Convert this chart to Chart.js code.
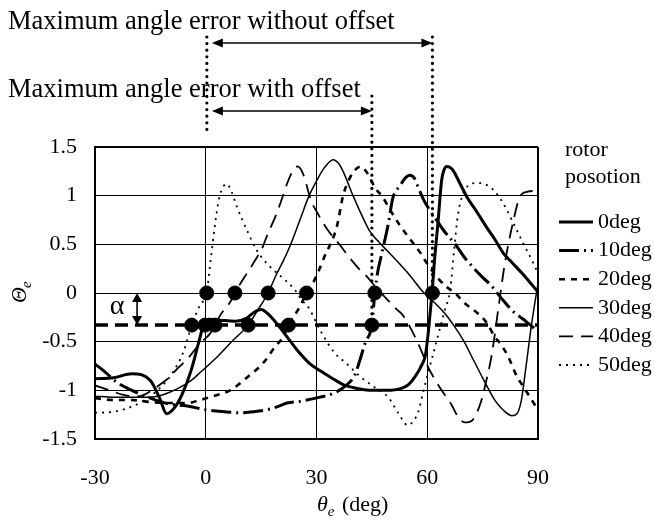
<!DOCTYPE html>
<html>
<head>
<meta charset="utf-8">
<script src="https://cdn.jsdelivr.net/npm/chart.js@4.4.1/dist/chart.umd.min.js"></script>
<style>
  html, body { margin: 0; padding: 0; background: #fff; }
  #wrap { width: 654px; height: 525px; }
</style>
</head>
<body>
<div id="wrap"><canvas id="chart" width="654" height="525"></canvas></div>
<script>
// ── Data ──
const xTicks = [-30, 0, 30, 60, 90];
const xTickLabels = ['-30', '0', '30', '60', '90'];
const yTicks = [-1.5, -1, -0.5, 0, 0.5, 1, 1.5];
const yTickLabels = ['-1.5', '-1', '-0.5', '0', '0.5', '1', '1.5'];

const deg0X = [-30, -25, -20, -15, -12.5, -10.6, -8.5, -6.5, -4, -2, -0.5, 1, 4, 8, 11, 13, 15, 17, 20, 23, 25.5, 28, 31, 34, 37.7, 41, 45, 49, 53, 55, 56.7, 58.5, 59.5, 60.3, 60.8, 61.3, 62, 62.9, 63.9, 64.6, 65.3, 66.2, 67, 68.8, 70.7, 73.5, 76, 78.5, 80.6, 83, 86, 88, 90];
const deg0Y = [-0.88, -0.87, -0.83, -0.9, -1.08, -1.24, -1.18, -1.05, -0.8, -0.52, -0.32, -0.27, -0.28, -0.29, -0.26, -0.2, -0.17, -0.22, -0.35, -0.5, -0.62, -0.72, -0.8, -0.87, -0.95, -0.98, -1.0, -1.0, -0.98, -0.94, -0.86, -0.74, -0.64, -0.4, -0.2, 0, 0.35, 0.72, 1.16, 1.27, 1.3, 1.29, 1.26, 1.13, 0.99, 0.83, 0.68, 0.54, 0.41, 0.31, 0.19, 0.1, 0.01];

const deg10X = [-30, -27, -24, -20, -15, -10, -5, 0, 5, 9.3, 13, 16.5, 20, 22, 26, 31, 34, 37.7, 40.4, 41.5, 43.3, 45, 45.8, 46.6, 47.6, 48.6, 49.4, 50.7, 52.6, 54, 55.3, 56.5, 57.6, 59, 61, 62.5, 64.3, 68, 70, 75, 77, 80, 83, 86, 88.6, 90];
const deg10Y = [-0.73, -0.82, -0.92, -1.0, -1.08, -1.14, -1.16, -1.2, -1.22, -1.23, -1.22, -1.2, -1.16, -1.13, -1.11, -1.07, -1.04, -0.96, -0.84, -0.72, -0.5, -0.33, 0, 0.22, 0.39, 0.56, 0.7, 0.98, 1.1, 1.18, 1.21, 1.18, 1.08, 0.96, 0.83, 0.75, 0.65, 0.48, 0.37, 0.16, 0.09, -0.05, -0.18, -0.27, -0.35, -0.4];

const deg20X = [-30, -25, -20, -15, -10, -5, -1.6, 2, 6.6, 11.1, 16, 18.8, 21, 22.4, 25.5, 27.3, 29, 30.5, 32, 35.5, 37.2, 39, 40.9, 42, 43.6, 45.9, 48, 50, 52.5, 55, 58, 60, 62.5, 65, 67.5, 70, 73.7, 76, 78.3, 80, 82, 84.3, 86, 88, 90];
const deg20Y = [-1.08, -1.1, -1.1, -1.12, -1.13, -1.13, -1.1, -1.06, -1.0, -0.87, -0.7, -0.55, -0.45, -0.33, -0.14, 0, 0.1, 0.22, 0.36, 0.68, 1.0, 1.18, 1.28, 1.3, 1.24, 1.08, 0.98, 0.85, 0.7, 0.57, 0.42, 0.3, 0.17, 0.07, 0, -0.1, -0.21, -0.3, -0.45, -0.53, -0.66, -0.86, -0.96, -1.08, -1.2];

const deg30X = [-30, -25, -20, -15.6, -12, -7.5, -4, -1.6, 3, 7, 11.5, 14, 16.9, 19, 21, 22.8, 25.5, 28, 30, 32, 34.5, 36, 37.2, 39.9, 42, 44.5, 47, 49, 52, 55.3, 58.9, 62, 65, 67.5, 70, 72, 74.7, 76.5, 78.3, 80.5, 82.9, 84.3, 85.5, 86.5, 88.3, 90];
const deg30Y = [-1.06, -1.07, -1.07, -1.07, -1.05, -0.98, -0.9, -0.82, -0.66, -0.5, -0.33, -0.18, 0, 0.18, 0.33, 0.48, 0.75, 1.0, 1.15, 1.28, 1.37, 1.33, 1.25, 1.0, 0.82, 0.63, 0.52, 0.44, 0.32, 0.18, 0.01, -0.1, -0.22, -0.35, -0.5, -0.65, -0.85, -0.98, -1.1, -1.2, -1.26, -1.24, -1.1, -0.83, -0.31, 0.1];

const deg40X = [-30, -26, -22, -18, -14.6, -12, -10, -7.5, -5, -1.6, 1.1, 2.5, 3.9, 7, 7.9, 11.1, 12.8, 15.5, 16.5, 18.8, 20, 22.1, 23.5, 24.8, 26.3, 28.6, 30, 32.8, 36.4, 39, 41.7, 43.6, 46.3, 48, 51.8, 53.2, 56.7, 58.8, 60.2, 62.1, 63.9, 66.6, 68.3, 70.2, 72.4, 74.7, 76, 77.4, 79.7, 81, 83.2, 85.1, 87, 90];
const deg40Y = [-0.95, -1.0, -1.05, -1.06, -1.0, -0.93, -0.87, -0.77, -0.68, -0.52, -0.42, -0.33, -0.23, -0.07, 0, 0.2, 0.3, 0.48, 0.58, 0.78, 0.9, 1.13, 1.25, 1.3, 1.23, 0.94, 0.84, 0.66, 0.49, 0.36, 0.24, 0.17, 0.05, -0.02, -0.17, -0.22, -0.45, -0.63, -0.76, -0.89, -1.0, -1.15, -1.27, -1.33, -1.3, -1.1, -0.9, -0.65, -0.04, 0.3, 0.72, 0.99, 1.04, 1.05];

const deg50X = [-30, -25, -19, -14, -11, -9, -6, -3.8, -1.5, 0.25, 1.2, 2.5, 3.5, 4.3, 5.7, 7, 8.4, 11.1, 13.8, 17.4, 21, 24.2, 26, 28.2, 30, 31.4, 35, 37.7, 42.2, 45.8, 49.4, 52.1, 54.8, 56.5, 57.5, 59, 62, 64.8, 66.2, 67.3, 68.3, 69.5, 71, 73.4, 75.5, 77.9, 80.6, 83.3, 86, 88.7, 90];
const deg50Y = [-1.23, -1.22, -1.15, -1.03, -0.92, -0.82, -0.6, -0.33, -0.12, 0, 0.3, 0.7, 0.95, 1.06, 1.12, 1.04, 0.89, 0.65, 0.44, 0.27, 0.15, 0.03, -0.07, -0.17, -0.31, -0.41, -0.62, -0.71, -0.87, -0.97, -1.07, -1.23, -1.36, -1.3, -1.23, -1.0, -0.57, -0.17, 0.03, 0.45, 0.8, 1.0, 1.1, 1.13, 1.12, 1.06, 0.92, 0.72, 0.51, 0.31, 0.2];

// Crossing markers and offset line
const alphaValue = -0.33;
const zeroDotsX = [0.25, 7.9, 16.9, 27.3, 45.8, 61.4];
const alphaDotsX = [-3.8, -0.2, 2.5, 11.5, 22.4, 45];
const alphaLineX = [-30, 90];

// Annotation anchors (data x)
const withoutOffsetX = [0.3, 61.4];
const withOffsetX = [0.3, 45];
const alphaArrowX = -18.6;

const SERIF = '"Liberation Serif", "Times New Roman", serif';

const series = [
    { label: '0deg',  xs: deg0X,  ys: deg0Y,  width: 3,   dash: [] },
    { label: '10deg', xs: deg10X, ys: deg10Y, width: 3,   dash: [20, 5, 2, 5] },
    { label: '20deg', xs: deg20X, ys: deg20Y, width: 2.6, dash: [6, 6] },
    { label: '30deg', xs: deg30X, ys: deg30Y, width: 1.5, dash: [] },
    { label: '40deg', xs: deg40X, ys: deg40Y, width: 1.8, dash: [14, 8] },
    { label: '50deg', xs: deg50X, ys: deg50Y, width: 1.8, dash: [2, 5] }
];

const toPts = (xs, ys) => xs.map((x, i) => ({ x: x, y: ys[i] }));

const datasets = [
    {
        label: 'dots',
        type: 'scatter',
        data: [...toPts(zeroDotsX, zeroDotsX.map(() => 0)), ...toPts(alphaDotsX, alphaDotsX.map(() => alphaValue))],
        pointRadius: 7,
        pointBackgroundColor: '#000',
        pointBorderColor: '#000',
        showLine: false
    },
    {
        label: 'alpha',
        data: toPts(alphaLineX, alphaLineX.map(() => alphaValue)),
        borderColor: '#000',
        borderWidth: 3.5,
        borderDash: [13, 7],
        pointRadius: 0
    },
    ...series.map(s => ({
        label: s.label,
        data: toPts(s.xs, s.ys),
        borderColor: '#000',
        borderWidth: s.width,
        borderDash: s.dash,
        pointRadius: 0,
        cubicInterpolationMode: 'monotone',
        borderCapStyle: 'butt'
    }))
];

// ── helpers for the drawings around the plot ──
function arrowHead(ctx, x, y, dir, len, half) {
    // dir: 'l','r','u','d'
    ctx.beginPath();
    if (dir === 'l') { ctx.moveTo(x, y); ctx.lineTo(x + len, y - half); ctx.lineTo(x + len, y + half); }
    if (dir === 'r') { ctx.moveTo(x, y); ctx.lineTo(x - len, y - half); ctx.lineTo(x - len, y + half); }
    if (dir === 'u') { ctx.moveTo(x, y); ctx.lineTo(x - half, y + len); ctx.lineTo(x + half, y + len); }
    if (dir === 'd') { ctx.moveTo(x, y); ctx.lineTo(x - half, y - len); ctx.lineTo(x + half, y - len); }
    ctx.closePath();
    ctx.fill();
}

function dottedLine(ctx, x, y1, y2) {
    ctx.save();
    ctx.lineWidth = 3.2;
    ctx.lineCap = 'round';
    ctx.setLineDash([0, 6.6]);
    ctx.beginPath();
    ctx.moveTo(x, y1);
    ctx.lineTo(x, y2);
    ctx.stroke();
    ctx.restore();
}

function hArrow(ctx, x1, x2, y) {
    ctx.save();
    ctx.lineWidth = 1.6;
    ctx.beginPath();
    ctx.moveTo(x1 + 8, y);
    ctx.lineTo(x2 - 8, y);
    ctx.stroke();
    arrowHead(ctx, x1, y, 'l', 11, 4.5);
    arrowHead(ctx, x2, y, 'r', 11, 4.5);
    ctx.restore();
}

const annotations = {
    id: 'annotations',
    beforeDatasetsDraw(chart) {
        const { ctx, scales: { x, y } } = chart;
        ctx.save();
        ctx.fillStyle = '#000';
        ctx.strokeStyle = '#000';
        dottedLine(ctx, x.getPixelForValue(withoutOffsetX[0]), 37, 130);
        dottedLine(ctx, x.getPixelForValue(withOffsetX[1]), 96, y.getPixelForValue(alphaValue));
        dottedLine(ctx, x.getPixelForValue(withoutOffsetX[1]), 37, y.getPixelForValue(0));
        ctx.restore();
    },
    afterDraw(chart) {
        const { ctx, scales: { x, y } } = chart;
        ctx.save();
        ctx.fillStyle = '#000';
        ctx.strokeStyle = '#000';

        // titles above
        ctx.font = '26.5px ' + SERIF;
        ctx.textBaseline = 'middle';
        ctx.textAlign = 'left';
        ctx.fillText('Maximum angle error without offset', 8, 22);
        ctx.fillText('Maximum angle error with offset', 8, 90);

        hArrow(ctx, x.getPixelForValue(withoutOffsetX[0]) + 5, x.getPixelForValue(withoutOffsetX[1]), 43);
        hArrow(ctx, x.getPixelForValue(withOffsetX[0]) + 5, x.getPixelForValue(withOffsetX[1]), 111);

        // alpha marker
        const ax = x.getPixelForValue(alphaArrowX);
        const ay1 = y.getPixelForValue(0), ay2 = y.getPixelForValue(alphaValue);
        ctx.lineWidth = 1.6;
        ctx.beginPath();
        ctx.moveTo(ax, ay1 + 6);
        ctx.lineTo(ax, ay2 - 6);
        ctx.stroke();
        arrowHead(ctx, ax, ay1, 'u', 9, 5);
        arrowHead(ctx, ax, ay2, 'd', 9, 5);
        ctx.font = '28px ' + SERIF;
        ctx.textAlign = 'center';
        ctx.fillText('α', 117, 307);

        // y axis title
        ctx.save();
        ctx.translate(26, 303);
        ctx.rotate(-Math.PI / 2);
        ctx.textAlign = 'left';
        ctx.textBaseline = 'alphabetic';
        ctx.font = 'italic 22px ' + SERIF;
        ctx.fillText('Θ', 0, 0);
        const tw = ctx.measureText('Θ').width;
        ctx.font = 'italic 15px ' + SERIF;
        ctx.fillText('e', tw - 1, 5);
        ctx.restore();

        // x axis title
        ctx.textAlign = 'left';
        ctx.textBaseline = 'alphabetic';
        ctx.font = 'italic 22px ' + SERIF;
        ctx.fillText('θ', 317, 511);
        const thw = ctx.measureText('θ').width;
        ctx.font = 'italic 15px ' + SERIF;
        ctx.fillText('e', 317 + thw, 516);
        ctx.font = '22px ' + SERIF;
        ctx.fillText('(deg)', 342, 511);

        // legend
        ctx.textBaseline = 'middle';
        ctx.font = '22px ' + SERIF;
        ctx.fillText('rotor', 565, 150);
        ctx.fillText('posotion', 565, 177);
        series.forEach((s, i) => {
            const ly = 222 + i * 28.6;
            ctx.save();
            ctx.lineWidth = s.width;
            ctx.setLineDash(s.dash);
            ctx.beginPath();
            ctx.moveTo(559, ly);
            ctx.lineTo(593, ly);
            ctx.stroke();
            ctx.restore();
            ctx.fillText(s.label, 598, ly);
        });
        ctx.restore();
    }
};

new Chart(document.getElementById('chart'), {
    type: 'line',
    data: { datasets: datasets },
    options: {
        responsive: false,
        animation: false,
        devicePixelRatio: 1,
        layout: { padding: { top: 147, right: 116, left: 0, bottom: 0 } },
        plugins: { legend: { display: false }, tooltip: { enabled: false } },
        scales: {
            x: {
                type: 'linear',
                min: -30,
                max: 90,
                afterBuildTicks: s => { s.ticks = xTicks.map(v => ({ value: v })); },
                afterFit: s => { s.height = 86; },
                ticks: {
                    callback: (v, i) => xTickLabels[i],
                    font: { family: SERIF, size: 22 },
                    color: '#000',
                    padding: 26,
                    maxRotation: 0,
                    autoSkip: false
                },
                grid: {
                    color: '#000',
                    lineWidth: c => (c.tick && c.tick.value === 90) ? 2 : 1,
                    drawTicks: false
                },
                border: { color: '#000', width: 2 }
            },
            y: {
                type: 'linear',
                min: -1.5,
                max: 1.5,
                afterBuildTicks: s => { s.ticks = yTicks.map(v => ({ value: v })); },
                afterFit: s => { s.width = 95; },
                ticks: {
                    callback: (v, i) => yTickLabels[i],
                    font: { family: SERIF, size: 22 },
                    color: '#000',
                    padding: 18
                },
                grid: {
                    color: '#000',
                    lineWidth: c => (c.tick && c.tick.value === 1.5) ? 2 : 1,
                    drawTicks: false
                },
                border: { color: '#000', width: 2 }
            }
        }
    },
    plugins: [annotations]
});
</script>
</body>
</html>
